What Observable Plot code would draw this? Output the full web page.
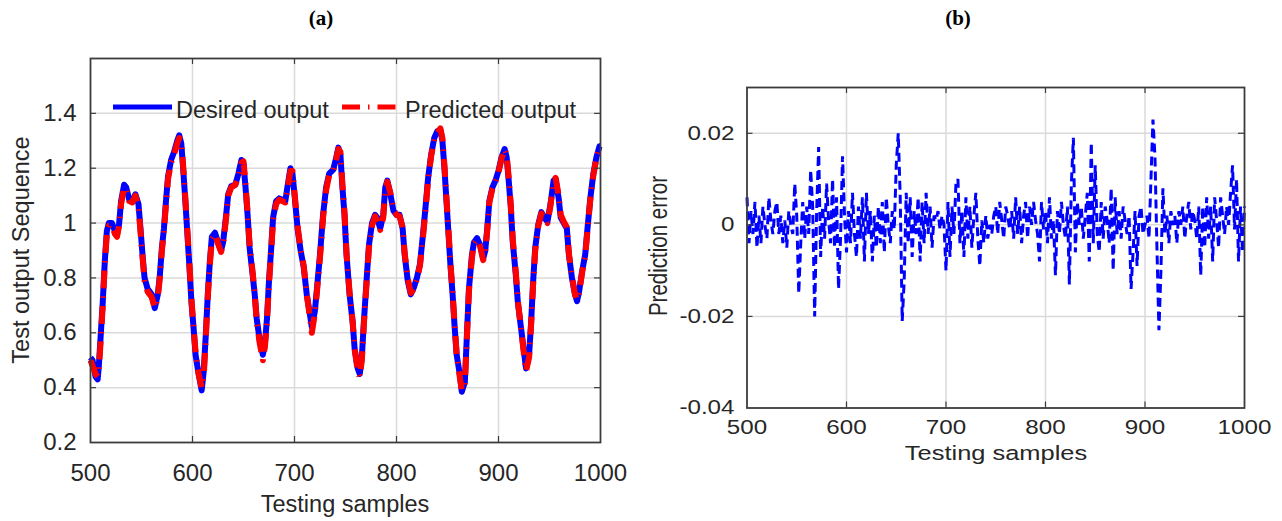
<!DOCTYPE html>
<html><head><meta charset="utf-8">
<script src="https://cdn.jsdelivr.net/npm/d3@7"></script>
<script src="https://cdn.jsdelivr.net/npm/@observablehq/plot@0.6"></script>
<style>
body{margin:0;background:#fff;}
#wrap{position:relative;width:1282px;height:521px;overflow:hidden;font-family:Arial,"Liberation Sans",sans-serif;color:#262626;}
#wrap svg{position:absolute;top:0;}
.abs{position:absolute;white-space:nowrap;line-height:1;}
</style></head><body><div id="wrap"></div>
<script>
// ---------- data: panel (a) ----------
const samples = [
500,502,505,507,508,510,512,514,516,518,
521,524,526,528,530,533,535,538,541,544,
547,549,551,553,556,560,563,566,568,570,
572,574,576,579,582,585,587,589,591,593,
595,597,599,601,603,606,609,611,613,615,
617,619,622,625,628,630,633,635,638,642,
645,648,650,652,654,656,659,661,663,666,
669,671,673,675,677,679,682,685,688,691,
693,696,698,700,703,706,709,712,715,717,
720,722,725,728,731,734,738,741,743,745,
747,749,751,754,757,759,762,764,766,768,
771,773,776,779,781,784,787,789,791,794,
797,800,803,806,808,811,814,817,820,823,
826,829,831,834,837,840,843,845,847,849,
851,853,855,857,859,862,864,867,869,871,
874,876,879,882,885,887,889,891,894,897,
900,903,906,908,910,912,914,917,919,922,
925,927,930,932,934,936,939,942,945,948,
951,954,956,959,961,964,967,969,972,975,
977,979,982,985,987,990,993,996,999,1000];
const desired = [
0.51,0.50,0.44,0.43,0.47,0.59,0.71,0.86,0.97,1.00,
1.00,0.97,0.96,0.995,1.08,1.14,1.13,1.085,1.08,1.105,
1.07,0.98,0.885,0.80,0.76,0.74,0.69,0.74,0.81,0.91,
0.98,1.08,1.17,1.23,1.26,1.30,1.32,1.29,1.19,1.08,
0.96,0.84,0.71,0.62,0.52,0.45,0.39,0.46,0.59,0.74,
0.86,0.95,0.965,0.93,0.90,0.93,1.03,1.105,1.135,1.14,
1.18,1.23,1.215,1.13,1.03,0.91,0.81,0.74,0.65,0.57,
0.52,0.56,0.65,0.79,0.90,1.02,1.08,1.09,1.085,1.08,
1.13,1.20,1.18,1.105,0.98,0.90,0.84,0.74,0.67,0.62,
0.68,0.76,0.885,1.03,1.13,1.18,1.195,1.24,1.275,1.25,
1.13,1.03,0.885,0.74,0.64,0.54,0.47,0.45,0.51,0.64,
0.81,0.92,1.00,1.03,1.02,0.98,1.03,1.13,1.155,1.105,
1.045,1.03,1.03,0.98,0.885,0.79,0.74,0.765,0.80,0.85,
0.96,1.08,1.165,1.25,1.31,1.335,1.34,1.30,1.20,1.08,
0.96,0.84,0.74,0.62,0.52,0.45,0.385,0.42,0.59,0.76,
0.885,0.93,0.945,0.92,0.87,0.90,0.98,1.08,1.13,1.155,
1.19,1.24,1.27,1.24,1.155,1.06,0.93,0.81,0.71,0.62,
0.53,0.47,0.52,0.64,0.79,0.91,0.995,1.04,1.02,1.005,
1.07,1.155,1.16,1.09,1.02,1.00,0.98,0.885,0.80,0.74,
0.715,0.75,0.825,0.885,0.97,1.09,1.18,1.24,1.28,1.28];
const predicted = [
0.50,0.48,0.45,0.44,0.46,0.57,0.70,0.85,0.96,0.99,
0.99,0.96,0.95,0.99,1.07,1.13,1.12,1.08,1.075,1.10,
1.06,0.97,0.875,0.79,0.75,0.73,0.69,0.73,0.80,0.90,
0.97,1.07,1.16,1.22,1.25,1.29,1.31,1.30,1.20,1.09,
0.97,0.85,0.72,0.62,0.53,0.45,0.40,0.44,0.58,0.73,
0.85,0.94,0.96,0.925,0.895,0.92,1.02,1.10,1.13,1.14,
1.17,1.22,1.225,1.14,1.04,0.92,0.82,0.74,0.64,0.56,
0.50,0.55,0.64,0.78,0.89,1.01,1.07,1.085,1.08,1.075,
1.12,1.19,1.19,1.11,0.99,0.905,0.845,0.74,0.66,0.60,
0.67,0.75,0.875,1.02,1.12,1.175,1.19,1.235,1.27,1.26,
1.14,1.04,0.89,0.745,0.64,0.54,0.46,0.44,0.50,0.63,
0.80,0.91,0.99,1.025,1.01,0.975,1.02,1.12,1.15,1.11,
1.05,1.03,1.025,0.985,0.89,0.80,0.745,0.76,0.795,0.845,
0.95,1.07,1.16,1.245,1.305,1.33,1.345,1.31,1.21,1.09,
0.97,0.85,0.745,0.63,0.52,0.44,0.39,0.41,0.58,0.75,
0.875,0.925,0.94,0.915,0.865,0.895,0.975,1.075,1.125,1.15,
1.185,1.235,1.27,1.25,1.165,1.07,0.94,0.82,0.715,0.62,
0.52,0.46,0.51,0.63,0.78,0.90,0.99,1.035,1.015,1.00,
1.065,1.15,1.165,1.10,1.03,1.005,0.985,0.89,0.805,0.74,
0.72,0.745,0.82,0.88,0.965,1.085,1.175,1.235,1.275,1.28];

// ---------- data: panel (b) ----------
const errStart = 500, errStep = 2;
const predError = [
0.006,-0.004,0.003,-0.002,0.005,-0.005,0.002,-0.004,0.004,0.000,
-0.003,0.006,0.001,-0.002,0.003,0.005,-0.002,0.002,-0.004,0.001,
-0.005,0.003,0.000,-0.002,0.009,0.002,-0.015,-0.004,0.005,-0.003,
0.004,-0.002,0.012,0.004,-0.020,0.003,0.017,-0.007,0.004,-0.003,
0.009,0.001,-0.004,0.010,-0.005,0.006,-0.014,-0.003,0.015,0.002,
-0.006,0.003,-0.004,0.007,-0.002,-0.007,0.004,-0.003,0.006,-0.008,
0.007,-0.002,0.003,-0.008,0.002,-0.005,0.004,-0.004,0.005,-0.006,
0.006,0.000,-0.004,0.003,-0.001,0.013,0.020,0.006,-0.021,-0.012,
0.007,-0.004,0.006,-0.007,0.003,-0.002,0.006,-0.008,0.005,-0.004,
0.007,-0.002,0.004,-0.005,0.002,0.001,0.003,-0.001,0.002,0.000,
-0.010,0.005,-0.007,0.004,-0.002,0.009,0.010,-0.004,0.003,-0.007,
0.006,-0.003,0.004,-0.005,0.002,0.007,-0.003,-0.009,0.001,-0.004,
0.002,-0.003,0.000,-0.002,0.002,0.004,-0.002,0.005,0.001,-0.003,
0.004,0.002,-0.001,0.003,-0.003,0.006,-0.002,0.004,-0.004,0.002,
0.005,-0.003,0.004,0.000,0.005,0.001,-0.002,-0.008,0.005,-0.001,
0.003,-0.004,0.006,-0.003,0.001,-0.011,0.003,-0.002,0.005,0.000,
-0.003,0.004,-0.013,0.009,0.019,-0.006,0.005,0.000,0.004,-0.003,
0.002,0.007,-0.008,0.018,-0.004,0.013,-0.002,-0.006,0.005,-0.003,
0.004,0.001,-0.004,0.008,-0.010,0.006,-0.002,0.003,-0.003,0.004,
0.001,-0.002,0.002,-0.014,-0.006,0.003,-0.009,0.002,0.004,-0.002,
0.000,0.002,-0.003,0.010,0.023,0.015,-0.005,-0.023,-0.010,0.008,
-0.002,0.002,-0.004,0.003,0.000,0.002,-0.004,0.003,0.000,0.004,
-0.003,0.002,0.005,-0.001,0.003,0.001,-0.003,0.004,-0.011,0.004,
-0.005,0.006,-0.003,0.004,-0.008,0.006,0.001,-0.005,0.006,0.002,
-0.002,0.004,0.000,0.007,0.013,-0.001,0.010,-0.008,0.004,-0.006,
0.004];

// ---------- ticks / labels ----------
const xTicks = [500,600,700,800,900,1000];
const yTicksA = [0.2,0.4,0.6,0.8,1.0,1.2,1.4];
const yTicksB = [-0.04,-0.02,0,0.02];
const titleA = "(a)", titleB = "(b)";
const xLabel = "Testing samples";
const yLabelA = "Test output Sequence";
const yLabelB = "Prediction error";
const legendNames = ["Desired output","Predicted output"];

const BLUE = "#0000ff", RED = "#ff0000", FRAME = "#3c3c3c", GRID = "#dadada", INK = "#262626";
const wrap = document.getElementById("wrap");

// ---------- panel (a) ----------
const A = {w:640,h:521,ml:90,mr:40,mt:58,mb:79};
const innerHA = A.h - A.mt - A.mb, innerWA = A.w - A.ml - A.mr;
const dataA = samples.map((s,i)=>({s, d:desired[i], p:predicted[i]}));
const fmtA = d => String(+d.toFixed(1));
const plotA = Plot.plot({
  width:A.w, height:A.h, marginLeft:A.ml, marginRight:A.mr, marginTop:A.mt, marginBottom:A.mb,
  style:{fontFamily:"Arial, 'Liberation Sans', sans-serif", fontSize:"24px", color:INK, background:"transparent", overflow:"visible"},
  x:{domain:[500,1000], label:null},
  y:{domain:[0.2,1.6], label:null},
  marks:[
    Plot.gridX(xTicks.slice(1,-1), {stroke:GRID, strokeOpacity:1, strokeWidth:1.5}),
    Plot.gridY(yTicksA.slice(1), {stroke:GRID, strokeOpacity:1, strokeWidth:1.5}),
    Plot.line(dataA, {x:"s", y:"d", stroke:BLUE, strokeWidth:6, strokeLinejoin:"round", strokeLinecap:"butt"}),
    Plot.line(dataA, {x:"s", y:"p", stroke:RED, strokeWidth:6, strokeDasharray:"18,8,1.5,8", strokeLinecap:"butt", strokeLinejoin:"round"}),
    Plot.ruleX(xTicks.slice(1,-1), {stroke:FRAME, strokeWidth:1.2, insetTop: innerHA-6}),
    Plot.ruleX(xTicks.slice(1,-1), {stroke:FRAME, strokeWidth:1.2, insetBottom: innerHA-6}),
    Plot.ruleY(yTicksA.slice(1), {stroke:FRAME, strokeWidth:1.2, insetRight: innerWA-6}),
    Plot.ruleY(yTicksA.slice(1), {stroke:FRAME, strokeWidth:1.2, insetLeft: innerWA-6}),
    Plot.frame({stroke:FRAME, strokeWidth:1.8}),
    Plot.axisX(xTicks, {tickSize:0, tickPadding:21, tickFormat:d=>String(d), fill:INK}),
    Plot.axisY(yTicksA, {tickSize:0, tickPadding:14, tickFormat:fmtA, fill:INK})
  ]
});
plotA.style.left = "0px";
wrap.appendChild(plotA);

// ---------- panel (b) ----------
const B = {x0:640, w:642,h:521,ml:106.5,mr:38,mt:87,mb:113.5};
const innerHB = B.h - B.mt - B.mb, innerWB = B.w - B.ml - B.mr;
const dataB = predError.map((e,i)=>({s: errStart + i*errStep, e}));
const fmtB = d => d === 0 ? "0" : d.toFixed(2);
const plotB = Plot.plot({
  width:B.w, height:B.h, marginLeft:B.ml, marginRight:B.mr, marginTop:B.mt, marginBottom:B.mb,
  style:{fontFamily:"Arial, 'Liberation Sans', sans-serif", fontSize:"19.5px", color:INK, background:"transparent", overflow:"visible"},
  x:{domain:[500,1000], label:null},
  y:{domain:[-0.04,0.03], label:null},
  marks:[
    Plot.gridX(xTicks.slice(1,-1), {stroke:GRID, strokeOpacity:1, strokeWidth:1.5}),
    Plot.gridY(yTicksB.slice(1), {stroke:GRID, strokeOpacity:1, strokeWidth:1.5}),
    Plot.line(dataB, {x:"s", y:"e", stroke:BLUE, strokeWidth:3, strokeDasharray:"9,5", strokeLinecap:"butt", strokeLinejoin:"miter"}),
    Plot.ruleX(xTicks.slice(1,-1), {stroke:FRAME, strokeWidth:1.2, insetTop: innerHB-6}),
    Plot.ruleX(xTicks.slice(1,-1), {stroke:FRAME, strokeWidth:1.2, insetBottom: innerHB-6}),
    Plot.ruleY(yTicksB.slice(1), {stroke:FRAME, strokeWidth:1.2, insetRight: innerWB-6}),
    Plot.ruleY(yTicksB.slice(1), {stroke:FRAME, strokeWidth:1.2, insetLeft: innerWB-6}),
    Plot.frame({stroke:FRAME, strokeWidth:1.8}),
    Plot.axisX(xTicks, {tickSize:0, tickPadding:12.5, tickFormat:d=>String(d), fill:INK}),
    Plot.axisY(yTicksB, {tickSize:0, tickPadding:12.5, tickFormat:fmtB, fill:INK})
  ]
});
plotB.style.left = B.x0 + "px";
wrap.appendChild(plotB);
// panel (b) text in the reference is horizontally widened
plotB.querySelectorAll('[aria-label="x-axis tick label"] text, [aria-label="y-axis tick label"] text').forEach(t => {
  const tr = t.getAttribute("transform") || "";
  const xa = t.getAttribute("x");
  if (xa && !isNaN(+xa) && +xa !== 0) {
    t.removeAttribute("x");
    t.setAttribute("transform", tr + ` translate(${+xa},0) scale(1.24,1)`);
  } else {
    t.setAttribute("transform", tr + " scale(1.24,1)");
  }
});

// ---------- HTML text ----------
function addText(txt, x, y, css) {
  const d = document.createElement("div");
  d.className = "abs"; d.textContent = txt;
  d.style.left = x + "px"; d.style.top = y + "px";
  Object.assign(d.style, css);
  wrap.appendChild(d);
  return d;
}
const titleCss = {fontFamily:"'Liberation Serif','Times New Roman',serif", fontWeight:"bold", fontSize:"21px", color:"#000", transform:"translate(-50%,-50%)"};
addText(titleA, 321, 18, titleCss);
addText(titleB, 958, 18, titleCss);
addText(xLabel, 345, 505, {fontSize:"23.5px", transform:"translate(-50%,-50%)"});
addText(yLabelA, 21.5, 250, {fontSize:"23.5px", transform:"translate(-50%,-50%) rotate(-90deg)"});
addText(xLabel, 996, 453, {fontSize:"20.5px", transform:"translate(-50%,-50%) scale(1.24,1)"});
addText(yLabelB, 659, 246, {fontSize:"20.5px", transform:"translate(-50%,-50%) scale(1.24,1) rotate(-90deg)"});

// ---------- legend (panel a) ----------
const ns = "http://www.w3.org/2000/svg";
const leg = document.createElementNS(ns, "svg");
leg.setAttribute("width", 640); leg.setAttribute("height", 521);
leg.style.left = "0px"; leg.style.pointerEvents = "none";
const legItems = [
  {x1:113, x2:172, tx:176, color:BLUE, dash:null, name:legendNames[0]},
  {x1:342, x2:398, tx:405, color:RED, dash:"18,8,1.5,8", name:legendNames[1]}
];
legItems.forEach(it => {
  const l = document.createElementNS(ns, "line");
  l.setAttribute("x1", it.x1); l.setAttribute("x2", it.x2);
  l.setAttribute("y1", 107); l.setAttribute("y2", 107);
  l.setAttribute("stroke", it.color); l.setAttribute("stroke-width", 5);
  if (it.dash) l.setAttribute("stroke-dasharray", it.dash);
  leg.appendChild(l);
  const t = document.createElementNS(ns, "text");
  t.setAttribute("x", it.tx); t.setAttribute("y", 110);
  t.setAttribute("dominant-baseline", "central");
  t.setAttribute("font-family", "Arial, 'Liberation Sans', sans-serif");
  t.setAttribute("font-size", "23.5px"); t.setAttribute("fill", INK);
  t.textContent = it.name;
  leg.appendChild(t);
});
wrap.appendChild(leg);
</script>
</body></html>
